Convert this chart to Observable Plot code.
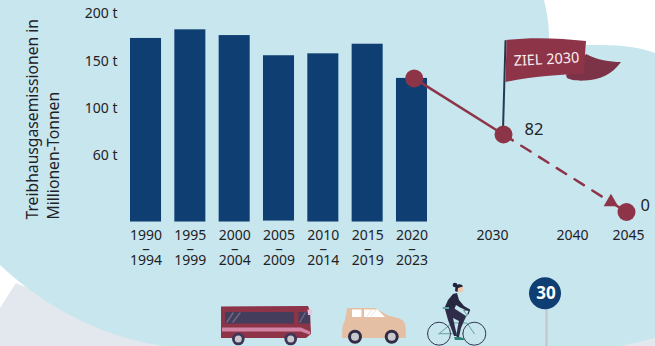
<!DOCTYPE html>
<html lang="de">
<head>
<meta charset="utf-8">
<title>Treibhausgasemissionen</title>
<script src="https://cdn.jsdelivr.net/npm/d3@7"></script>
<script src="https://cdn.jsdelivr.net/npm/@observablehq/plot@0.6"></script>
<style>
  html, body { margin: 0; padding: 0; background: #fff; }
  svg { display: block; }
</style>
</head>
<body>
<div id="chart"></div>
<script>
// Emissions per period, in million tonnes
const periodStarts = [1990, 1995, 2000, 2005, 2010, 2015, 2020];
const periodEnds = [1994, 1999, 2004, 2009, 2014, 2019, 2023];
const periodValues = [174, 183, 177, 156, 158, 168, 132];
const periodBases = [-10.6, -10.6, -10.6, -9.6, -10.6, -10.6, -10.6];

// Reduction path towards the climate targets
const pathYears = [2022, 2030, 2045];
const pathValues = [132, 82, 0];

const yTicks = [60, 100, 150, 200];
const futureYears = [2030, 2040, 2045];
const futureOffsets = [-11, -13, 2];

const ink = "#1f2226";
const navy = "#0f3f72";
const maroon = "#8d3448";
const font = "'Noto Sans', sans-serif";

const bars = periodStarts.map((start, i) => ({
  start, end: start + 3.5, mid: start + 1.75,
  value: periodValues[i], base: periodBases[i], last: periodEnds[i]
}));
const path = pathYears.map((year, i) => ({year, value: pathValues[i]}));

// Helpers for the decorative artwork, which sits outside the data scales
function art(draw) {
  return () => {
    const g = d3.create("svg:g");
    draw({
      p: (d, fill) => g.append("path").attr("d", d).attr("fill", fill),
      l: (d, stroke, w) => g.append("path").attr("d", d).attr("fill", "none").attr("stroke", stroke)
        .attr("stroke-width", w).attr("stroke-linecap", "round").attr("stroke-linejoin", "round"),
      c: (cx, cy, r, fill) => g.append("circle").attr("cx", cx).attr("cy", cy).attr("r", r).attr("fill", fill)
    });
    return g.node();
  };
}

const backdrop = art(({p}) => {
  p("M0 346V308L16 283L165 346Z", "#e3e8ef");
  p("M655 346V336L615 346Z", "#e3e8ef");
  p("M0 0H544C547 12 549 25 549 37C549 42 549 45 552 45H600C625 45 642 48 655 53V338C642 341 630 344 620 346H165C110 339 50 312 0 265Z", "#c7e6ee");
});

const flag = art(({p, l}) => {
  l("M505.5 41L503 130", "#24394f", 2);
  p("M566 75L586 54C597 60 610 62 621 62C612 74 601 80 585 80.500C578 81 570 80 567 78Z", "#7d3347");
  p("M506.500 40C530 37 560 38 586 41L583.500 74C560 74 530 77 505.500 82Z", maroon);
});

const bus = art(({p, l, c}) => {
  p("M221 306.500L308 306L310 311L311 334L306 338H221Z", maroon);
  p("M225 312H294V323.500H225Z", "#453d5c");
  p("M298.500 312H310V323.500H298.500Z", "#453d5c");
  l("M227 322L233 313M233 322L240 313M300 322L305 313", "#6d6884", 1.5);
  p("M222 327.500L301 327.500L310 331.500L310.500 335L301 331.500H222Z", "#d184a5");
  p("M307.500 309.500H312V315H308Z", "#e8c6dc");
  for (const cx of [238.3, 290.7]) {
    c(cx, 339, 6.300, "#3e3658");
    c(cx, 339, 3.500, "#cbc7cc");
  }
});

const car = art(({p, l, c}) => {
  p("M347 308H375L388 315.500L398 318C403 320 405 322 405.500 326L406 338H342L342.500 326C345 322 346 316 347 308Z", "#e5bfa3");
  p("M352 309.500H361.500V317H352Z", "#fff");
  p("M364 309.500H377.500L385 317H364Z", "#fff");
  l("M367 316L372 310M371 316L376 310", "#e8e2dc", 1);
  for (const cx of [355, 391.7]) {
    c(cx, 336.7, 7, "#312c45");
    c(cx, 336.7, 4, "#c9c9cd");
  }
});

const cyclist = art(({p, l, c}) => {
  l("M439 333.700L452 323H467L474.300 333.700M439 333.700H456L467 315M452 323L456 333.700M467 315L464 311", "#64a0a2", 1);
  for (const cx of [439, 474.300]) {
    l(`M${cx - 11.500} 333.700a11.500 11.500 0 1 0 23 0a11.500 11.500 0 1 0 -23 0`, "#33384f", 1);
  }
  l("M464 310H469.500L468 314", "#25283f", 1.200);
  p("M444 309L448 300L453 294L457 293L459 300L464 306L470 309.500L469 311L461 308L456 305L454 310Z", "#25283f");
  p("M444.500 307.500L452 307L466 316L461 328L459 337H456.500L457.500 328L459 321L453 318L457 336H454L448 320Z", "#2f2c4a");
  p("M454 337H460L464 338.500V340H455Z", "#2c8278");
  c(459.300, 288.700, 3.800, "#f0c9a8");
  p("M455.500 286C458 283.500 462 284 463 286.500L458 288L457.500 292L455 291Z", "#22253a");
  c(455, 285, 2.300, "#22253a");
  p("M442.500 307H449V309H443Z", "#64a0a2");
});

const speedSign = art(({l, c}) => {
  l("M546.500 310V346", "#c0c4c8", 2);
  c(545, 293.300, 16, navy);
});

// Text pinned to the top of the frame, centred on its line
const labelRow = (data, options) => Plot.text(data, {frameAnchor: "top", lineAnchor: "middle", fontSize: 14, fill: ink, ...options});

const plot = Plot.plot({
  width: 655,
  height: 346,
  margin: 0,
  style: {background: "transparent", fontFamily: font, color: ink, overflow: "visible"},
  x: {axis: null, type: "linear", domain: [1990, 2023.5, 2030, 2045], range: [130, 427, 503, 626]},
  y: {type: "linear", domain: [0, 82, 100, 150, 200], range: [211.5, 134, 108, 61, 13]},
  marks: [
    backdrop,
    Plot.rect(bars, {x1: "start", x2: "end", y1: "base", y2: "value", fill: navy}),
    Plot.axisY(yTicks, {anchor: "left", tickSize: 0, tickPadding: 0, dx: 117, label: null, tickFormat: (d) => `${d} t`, fontSize: 14}),
    Plot.text(["Treibhausgasemissionen in\nMillionen-Tonnen"], {
      frameAnchor: "top-left", dx: 41, dy: 219, rotate: -90, textAnchor: "start",
      lineAnchor: "middle", lineHeight: 1.35, fontSize: 15.7, fill: ink
    }),
    labelRow(bars, {x: "mid", text: (d) => String(d.start), dy: 235}),
    labelRow(bars, {x: "mid", text: () => "–", dy: 248.5, fontSize: 15}),
    labelRow(bars, {x: "mid", text: (d) => String(d.last), dy: 260}),
    ...futureYears.map((year, i) => labelRow([year], {x: (d) => d, text: (d) => String(d), dy: 235, dx: futureOffsets[i]})),
    flag,
    Plot.line(path.slice(0, 2), {x: "year", y: "value", stroke: maroon, strokeWidth: 2.5}),
    Plot.line(path.slice(1), {x: "year", y: "value", stroke: maroon, strokeWidth: 2.5, strokeDasharray: "11 10"}),
    Plot.dot([{year: 2043.1, value: 10.5}], {x: "year", y: "value", symbol: "triangle", r: 5.4, fill: maroon}),
    Plot.dot(path, {x: "year", y: "value", r: 9, fill: maroon}),
    Plot.text([path[1]], {x: "year", y: "value", text: "value", dx: 21, dy: -5, textAnchor: "start", fontSize: 16.5, fill: ink}),
    Plot.text([path[2]], {x: "year", y: "value", text: "value", dx: 14, dy: -6, textAnchor: "start", fontSize: 16.5, fill: ink}),
    Plot.text(["ZIEL 2030"], {frameAnchor: "top-left", textAnchor: "middle", lineAnchor: "middle", dx: 546, dy: 59, rotate: -3, fontSize: 14.5, fill: "#fbeef0"}),
    bus,
    car,
    cyclist,
    speedSign,
    Plot.text(["30"], {frameAnchor: "top-left", textAnchor: "middle", lineAnchor: "middle", dx: 545.5, dy: 293, fontSize: 17, fontWeight: 700, fill: "#fff"})
  ]
});

document.getElementById("chart").append(plot);
</script>
</body>
</html>
